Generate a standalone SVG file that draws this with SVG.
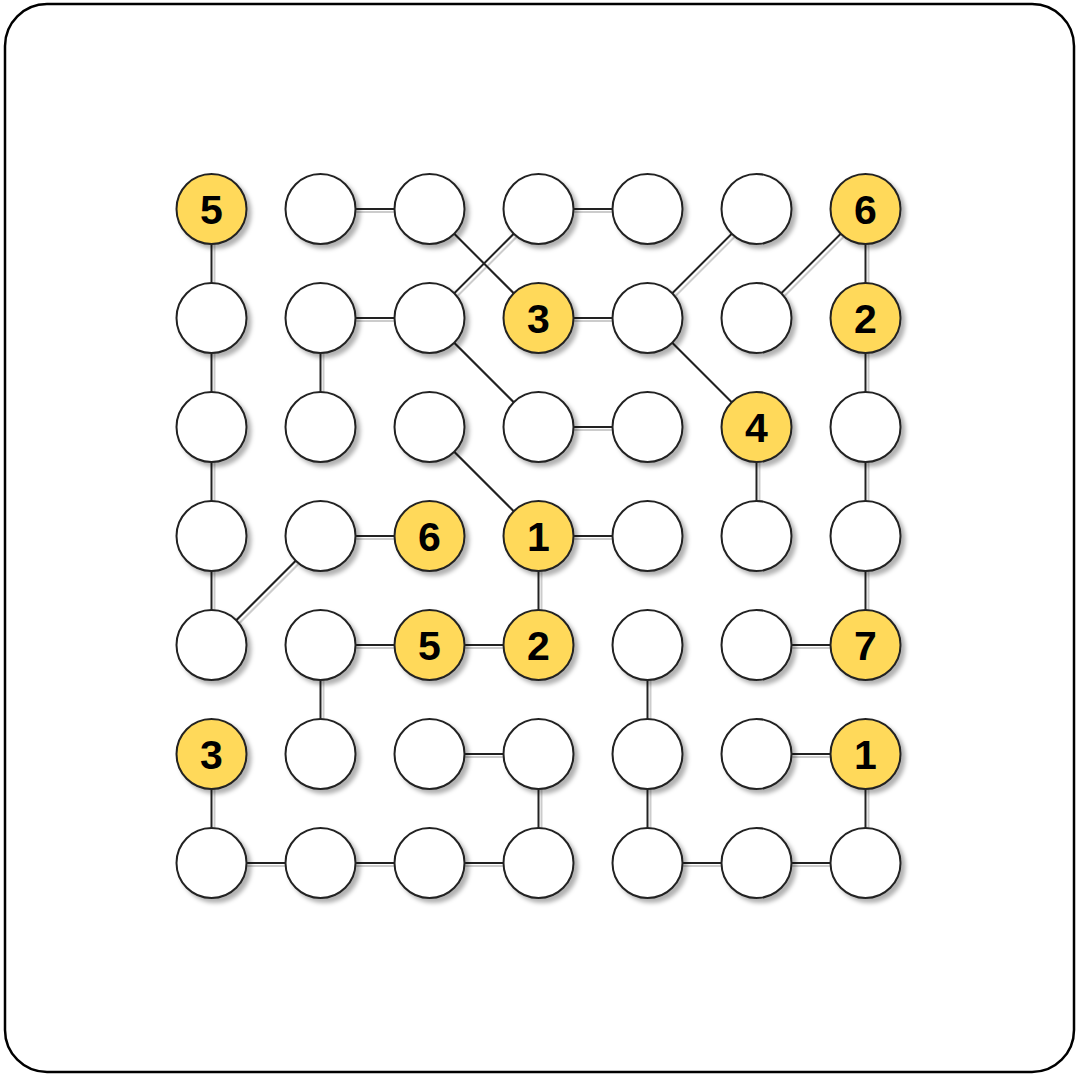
<svg xmlns="http://www.w3.org/2000/svg" width="1079" height="1076" viewBox="0 0 1079 1076">
<defs>
<filter id="sh" x="-30%" y="-30%" width="160%" height="160%">
<feDropShadow dx="4" dy="4" stdDeviation="2" flood-color="#000" flood-opacity="0.3"/>
</filter>
<filter id="lsh" x="-10%" y="-10%" width="120%" height="120%">
<feDropShadow dx="3" dy="3" stdDeviation="0.7" flood-color="#000" flood-opacity="0.2"/>
</filter>
</defs>
<style>
.e{stroke:#222;stroke-width:2;fill:none}
.n{fill:#fff;stroke:#222;stroke-width:2;filter:url(#sh)}
.y{fill:#ffd95a}
.t{font-family:"Liberation Sans",Arial,sans-serif;font-weight:bold;font-size:41px;text-anchor:middle;fill:#000}
</style>
<rect x="5" y="4" width="1069" height="1068" rx="42" fill="#fff" stroke="#000" stroke-width="2.5"/>
<g id="connectors" class="e" filter="url(#lsh)">
<line x1="211.5" y1="209" x2="211.5" y2="318"/>
<line x1="320.5" y1="209" x2="429.5" y2="209"/>
<line x1="538.5" y1="209" x2="647.5" y2="209"/>
<line x1="865.5" y1="209" x2="865.5" y2="318"/>
<line x1="429.5" y1="209" x2="538.5" y2="318"/>
<line x1="538.5" y1="209" x2="429.5" y2="318"/>
<line x1="756.5" y1="209" x2="647.5" y2="318"/>
<line x1="865.5" y1="209" x2="756.5" y2="318"/>
<line x1="320.5" y1="318" x2="429.5" y2="318"/>
<line x1="538.5" y1="318" x2="647.5" y2="318"/>
<line x1="320.5" y1="318" x2="320.5" y2="427"/>
<line x1="211.5" y1="318" x2="211.5" y2="427"/>
<line x1="429.5" y1="318" x2="538.5" y2="427"/>
<line x1="647.5" y1="318" x2="756.5" y2="427"/>
<line x1="865.5" y1="318" x2="865.5" y2="427"/>
<line x1="538.5" y1="427" x2="647.5" y2="427"/>
<line x1="211.5" y1="427" x2="211.5" y2="536"/>
<line x1="429.5" y1="427" x2="538.5" y2="536"/>
<line x1="756.5" y1="427" x2="756.5" y2="536"/>
<line x1="865.5" y1="427" x2="865.5" y2="536"/>
<line x1="320.5" y1="536" x2="429.5" y2="536"/>
<line x1="538.5" y1="536" x2="647.5" y2="536"/>
<line x1="211.5" y1="536" x2="211.5" y2="645"/>
<line x1="320.5" y1="536" x2="211.5" y2="645"/>
<line x1="538.5" y1="536" x2="538.5" y2="645"/>
<line x1="865.5" y1="536" x2="865.5" y2="645"/>
<line x1="320.5" y1="645" x2="538.5" y2="645"/>
<line x1="756.5" y1="645" x2="865.5" y2="645"/>
<line x1="320.5" y1="645" x2="320.5" y2="754"/>
<line x1="647.5" y1="645" x2="647.5" y2="754"/>
<line x1="429.5" y1="754" x2="538.5" y2="754"/>
<line x1="756.5" y1="754" x2="865.5" y2="754"/>
<line x1="211.5" y1="754" x2="211.5" y2="863"/>
<line x1="538.5" y1="754" x2="538.5" y2="863"/>
<line x1="647.5" y1="754" x2="647.5" y2="863"/>
<line x1="865.5" y1="754" x2="865.5" y2="863"/>
<line x1="211.5" y1="863" x2="538.5" y2="863"/>
<line x1="647.5" y1="863" x2="865.5" y2="863"/>
</g>
<g id="n00"><circle class="n y" cx="211.5" cy="209" r="35"/><text class="t" x="211.5" y="224">5</text></g>
<g id="n10"><circle class="n" cx="320.5" cy="209" r="35"/></g>
<g id="n20"><circle class="n" cx="429.5" cy="209" r="35"/></g>
<g id="n30"><circle class="n" cx="538.5" cy="209" r="35"/></g>
<g id="n40"><circle class="n" cx="647.5" cy="209" r="35"/></g>
<g id="n50"><circle class="n" cx="756.5" cy="209" r="35"/></g>
<g id="n60"><circle class="n y" cx="865.5" cy="209" r="35"/><text class="t" x="865.5" y="224">6</text></g>
<g id="n01"><circle class="n" cx="211.5" cy="318" r="35"/></g>
<g id="n11"><circle class="n" cx="320.5" cy="318" r="35"/></g>
<g id="n21"><circle class="n" cx="429.5" cy="318" r="35"/></g>
<g id="n31"><circle class="n y" cx="538.5" cy="318" r="35"/><text class="t" x="538.5" y="333">3</text></g>
<g id="n41"><circle class="n" cx="647.5" cy="318" r="35"/></g>
<g id="n51"><circle class="n" cx="756.5" cy="318" r="35"/></g>
<g id="n61"><circle class="n y" cx="865.5" cy="318" r="35"/><text class="t" x="865.5" y="333">2</text></g>
<g id="n02"><circle class="n" cx="211.5" cy="427" r="35"/></g>
<g id="n12"><circle class="n" cx="320.5" cy="427" r="35"/></g>
<g id="n22"><circle class="n" cx="429.5" cy="427" r="35"/></g>
<g id="n32"><circle class="n" cx="538.5" cy="427" r="35"/></g>
<g id="n42"><circle class="n" cx="647.5" cy="427" r="35"/></g>
<g id="n52"><circle class="n y" cx="756.5" cy="427" r="35"/><text class="t" x="756.5" y="442">4</text></g>
<g id="n62"><circle class="n" cx="865.5" cy="427" r="35"/></g>
<g id="n03"><circle class="n" cx="211.5" cy="536" r="35"/></g>
<g id="n13"><circle class="n" cx="320.5" cy="536" r="35"/></g>
<g id="n23"><circle class="n y" cx="429.5" cy="536" r="35"/><text class="t" x="429.5" y="551">6</text></g>
<g id="n33"><circle class="n y" cx="538.5" cy="536" r="35"/><text class="t" x="538.5" y="551">1</text></g>
<g id="n43"><circle class="n" cx="647.5" cy="536" r="35"/></g>
<g id="n53"><circle class="n" cx="756.5" cy="536" r="35"/></g>
<g id="n63"><circle class="n" cx="865.5" cy="536" r="35"/></g>
<g id="n04"><circle class="n" cx="211.5" cy="645" r="35"/></g>
<g id="n14"><circle class="n" cx="320.5" cy="645" r="35"/></g>
<g id="n24"><circle class="n y" cx="429.5" cy="645" r="35"/><text class="t" x="429.5" y="660">5</text></g>
<g id="n34"><circle class="n y" cx="538.5" cy="645" r="35"/><text class="t" x="538.5" y="660">2</text></g>
<g id="n44"><circle class="n" cx="647.5" cy="645" r="35"/></g>
<g id="n54"><circle class="n" cx="756.5" cy="645" r="35"/></g>
<g id="n64"><circle class="n y" cx="865.5" cy="645" r="35"/><text class="t" x="865.5" y="660">7</text></g>
<g id="n05"><circle class="n y" cx="211.5" cy="754" r="35"/><text class="t" x="211.5" y="769">3</text></g>
<g id="n15"><circle class="n" cx="320.5" cy="754" r="35"/></g>
<g id="n25"><circle class="n" cx="429.5" cy="754" r="35"/></g>
<g id="n35"><circle class="n" cx="538.5" cy="754" r="35"/></g>
<g id="n45"><circle class="n" cx="647.5" cy="754" r="35"/></g>
<g id="n55"><circle class="n" cx="756.5" cy="754" r="35"/></g>
<g id="n65"><circle class="n y" cx="865.5" cy="754" r="35"/><text class="t" x="865.5" y="769">1</text></g>
<g id="n06"><circle class="n" cx="211.5" cy="863" r="35"/></g>
<g id="n16"><circle class="n" cx="320.5" cy="863" r="35"/></g>
<g id="n26"><circle class="n" cx="429.5" cy="863" r="35"/></g>
<g id="n36"><circle class="n" cx="538.5" cy="863" r="35"/></g>
<g id="n46"><circle class="n" cx="647.5" cy="863" r="35"/></g>
<g id="n56"><circle class="n" cx="756.5" cy="863" r="35"/></g>
<g id="n66"><circle class="n" cx="865.5" cy="863" r="35"/></g>
</svg>
